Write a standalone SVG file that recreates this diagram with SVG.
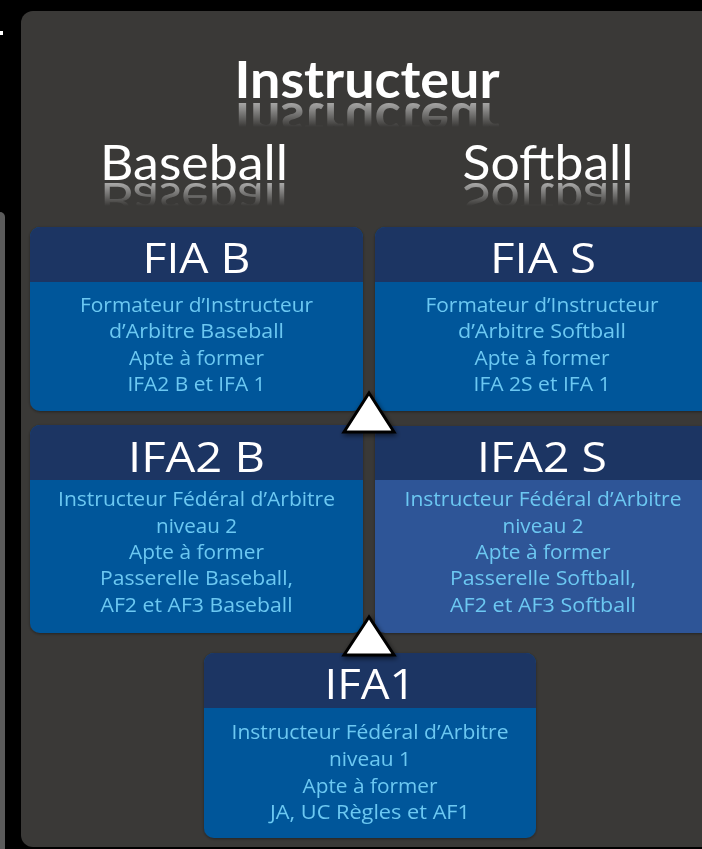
<svg xmlns="http://www.w3.org/2000/svg" xmlns:xlink="http://www.w3.org/1999/xlink" width="702" height="849" viewBox="0 0 702 849">
  <defs>
    <style>
      .title { font-family: Lato, "Liberation Sans", sans-serif; fill: #ffffff; }
      .hdr { font-family: "Open Sans", "Liberation Sans", sans-serif; font-size: 42px; fill: #ffffff; text-anchor: middle; }
      .body { font-family: "Open Sans", "Liberation Sans", sans-serif; font-size: 19.5px; fill: #6cc8f2; text-anchor: middle; }
      .head { fill: #1f3464; }
      .main { fill: #00579a; }
      .alt { fill: #2e5597; }
      .tri { fill: #ffffff; stroke: #000000; stroke-width: 3; stroke-linejoin: miter; }
    </style>
    <linearGradient id="fade" x1="0" y1="0" x2="0" y2="1">
      <stop offset="0" stop-color="#ffffff" stop-opacity="0.6"/>
      <stop offset="1" stop-color="#ffffff" stop-opacity="0"/>
    </linearGradient>
    <mask id="m1" maskUnits="userSpaceOnUse" x="0" y="0" width="702" height="849">
      <rect x="0" y="101" width="702" height="26" fill="url(#fade)"/>
    </mask>
    <mask id="m2" maskUnits="userSpaceOnUse" x="0" y="0" width="702" height="849">
      <rect x="0" y="182" width="702" height="24" fill="url(#fade)"/>
    </mask>
    <filter id="sh" x="-30%" y="-30%" width="160%" height="160%">
      <feGaussianBlur in="SourceAlpha" stdDeviation="2.5"/>
      <feOffset dx="1" dy="2" result="b"/>
      <feComponentTransfer><feFuncA type="linear" slope="0.6"/></feComponentTransfer>
      <feMerge><feMergeNode/><feMergeNode in="SourceGraphic"/></feMerge>
    </filter>
    <filter id="bs" x="-5%" y="-5%" width="110%" height="110%">
      <feGaussianBlur in="SourceAlpha" stdDeviation="1.5"/>
      <feOffset dx="0" dy="1"/>
      <feComponentTransfer><feFuncA type="linear" slope="0.4"/></feComponentTransfer>
      <feMerge><feMergeNode/><feMergeNode in="SourceGraphic"/></feMerge>
    </filter>
  </defs>

  <rect x="0" y="0" width="702" height="849" fill="#000000"/>
  <rect x="0" y="31" width="3" height="4" fill="#ffffff"/>
  <rect x="-10" y="212" width="15" height="700" rx="5" fill="#5b5b5b"/>
  <rect x="21" y="11" width="720" height="836" rx="12" fill="#3a3937"/>

  <g id="titles">
    <text id="t-instr" class="title" x="367" y="98" font-size="52" font-weight="bold" text-anchor="middle" textLength="265" lengthAdjust="spacingAndGlyphs">Instructeur</text>
    <text id="t-base" class="title" x="194" y="180" font-size="48" text-anchor="middle" textLength="188" lengthAdjust="spacingAndGlyphs">Baseball</text>
    <text id="t-soft" class="title" x="548" y="180" font-size="48" text-anchor="middle" textLength="171" lengthAdjust="spacingAndGlyphs">Softball</text>
    <g mask="url(#m1)">
      <use xlink:href="#t-instr" href="#t-instr" transform="translate(0,201) scale(1,-1)"/>
    </g>
    <g mask="url(#m2)">
      <use xlink:href="#t-base" href="#t-base" transform="translate(0,363) scale(1,-1)"/>
      <use xlink:href="#t-soft" href="#t-soft" transform="translate(0,363) scale(1,-1)"/>
    </g>
  </g>

  <g id="fia-b" filter="url(#bs)">
    <rect class="main" x="30" y="227" width="333" height="184" rx="10"/>
    <path class="head" d="M30,282 V237 a10,10 0 0 1 10,-10 H353 a10,10 0 0 1 10,10 V282 Z"/>
    <text class="hdr" x="196.5" y="273" textLength="108" lengthAdjust="spacingAndGlyphs">FIA B</text>
    <text class="body" x="196.5" y="312" textLength="233" lengthAdjust="spacingAndGlyphs">Formateur d’Instructeur</text>
    <text class="body" x="196.5" y="338" textLength="175" lengthAdjust="spacingAndGlyphs">d’Arbitre Baseball</text>
    <text class="body" x="196.5" y="365" textLength="135" lengthAdjust="spacingAndGlyphs">Apte à former</text>
    <text class="body" x="196.5" y="391" textLength="138" lengthAdjust="spacingAndGlyphs">IFA2 B et IFA 1</text>
  </g>

  <g id="fia-s" filter="url(#bs)">
    <rect class="main" x="375" y="227" width="337" height="184" rx="10"/>
    <path class="head" d="M375,282 V237 a10,10 0 0 1 10,-10 H702 a10,10 0 0 1 10,10 V282 Z"/>
    <text class="hdr" x="543" y="273" textLength="106" lengthAdjust="spacingAndGlyphs">FIA S</text>
    <text class="body" x="542" y="312" textLength="233" lengthAdjust="spacingAndGlyphs">Formateur d’Instructeur</text>
    <text class="body" x="542" y="338" textLength="168" lengthAdjust="spacingAndGlyphs">d’Arbitre Softball</text>
    <text class="body" x="542" y="365" textLength="135" lengthAdjust="spacingAndGlyphs">Apte à former</text>
    <text class="body" x="542" y="391" textLength="137" lengthAdjust="spacingAndGlyphs">IFA 2S et IFA 1</text>
  </g>

  <g id="ifa2-b" filter="url(#bs)">
    <rect class="main" x="30" y="425" width="333" height="208" rx="10"/>
    <path class="head" d="M30,480 V435 a10,10 0 0 1 10,-10 H353 a10,10 0 0 1 10,10 V480 Z"/>
    <text class="hdr" x="196.5" y="472" textLength="137" lengthAdjust="spacingAndGlyphs">IFA2 B</text>
    <text class="body" x="196.5" y="506" textLength="277" lengthAdjust="spacingAndGlyphs">Instructeur Fédéral d’Arbitre</text>
    <text class="body" x="196.5" y="533" textLength="81" lengthAdjust="spacingAndGlyphs">niveau 2</text>
    <text class="body" x="196.5" y="559" textLength="135" lengthAdjust="spacingAndGlyphs">Apte à former</text>
    <text class="body" x="196.5" y="585" textLength="193" lengthAdjust="spacingAndGlyphs">Passerelle Baseball,</text>
    <text class="body" x="196.5" y="612" textLength="192" lengthAdjust="spacingAndGlyphs">AF2 et AF3 Baseball</text>
  </g>

  <g id="ifa2-s" filter="url(#bs)">
    <rect class="alt" x="375" y="426" width="337" height="207" rx="10"/>
    <path class="head" d="M375,480 V436 a10,10 0 0 1 10,-10 H702 a10,10 0 0 1 10,10 V480 Z"/>
    <text class="hdr" x="542" y="472" textLength="130" lengthAdjust="spacingAndGlyphs">IFA2 S</text>
    <text class="body" x="543" y="506" textLength="277" lengthAdjust="spacingAndGlyphs">Instructeur Fédéral d’Arbitre</text>
    <text class="body" x="543" y="533" textLength="81" lengthAdjust="spacingAndGlyphs">niveau 2</text>
    <text class="body" x="543" y="559" textLength="135" lengthAdjust="spacingAndGlyphs">Apte à former</text>
    <text class="body" x="543" y="585" textLength="186" lengthAdjust="spacingAndGlyphs">Passerelle Softball,</text>
    <text class="body" x="543" y="612" textLength="186" lengthAdjust="spacingAndGlyphs">AF2 et AF3 Softball</text>
  </g>

  <g id="ifa1" filter="url(#bs)">
    <rect class="main" x="204" y="653" width="332" height="185" rx="10"/>
    <path class="head" d="M204,708 V663 a10,10 0 0 1 10,-10 H526 a10,10 0 0 1 10,10 V708 Z"/>
    <text class="hdr" x="370" y="699" textLength="91" lengthAdjust="spacingAndGlyphs">IFA1</text>
    <text class="body" x="370" y="739" textLength="277" lengthAdjust="spacingAndGlyphs">Instructeur Fédéral d’Arbitre</text>
    <text class="body" x="370" y="766" textLength="82" lengthAdjust="spacingAndGlyphs">niveau 1</text>
    <text class="body" x="370" y="793" textLength="135" lengthAdjust="spacingAndGlyphs">Apte à former</text>
    <text class="body" x="370" y="819" textLength="200" lengthAdjust="spacingAndGlyphs">JA, UC Règles et AF1</text>
  </g>

  <g id="connectors">
    <polygon class="tri" filter="url(#sh)" points="369,393 344,432 394,432"/>
    <polygon class="tri" filter="url(#sh)" points="369,617 344,655 394,655"/>
  </g>
</svg>
